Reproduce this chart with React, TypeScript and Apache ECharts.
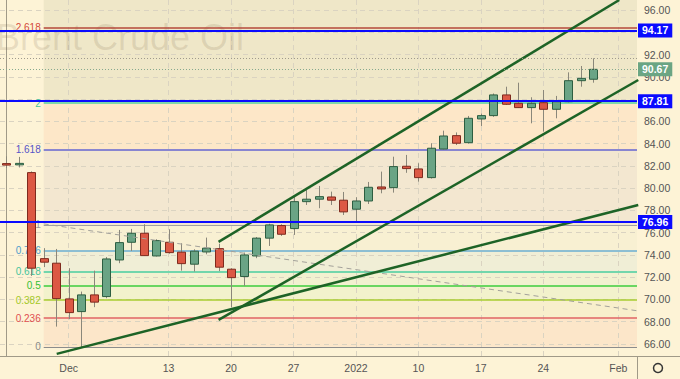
import React, { useEffect, useRef } from 'react';
import * as echarts from 'echarts';

// ---------- data ----------
const dates = ['Nov 24','Nov 25','Nov 26','Nov 29','Nov 30','Dec 1','Dec 2','Dec 3','Dec 6','Dec 7','Dec 8','Dec 9','Dec 10','Dec 13','Dec 14','Dec 15','Dec 16','Dec 17','Dec 20','Dec 21','Dec 22','Dec 23','Dec 24','Dec 27','Dec 28','Dec 29','Dec 30','Dec 31','Jan 3','Jan 4','Jan 5','Jan 6','Jan 7','Jan 10','Jan 11','Jan 12','Jan 13','Jan 14','Jan 17','Jan 18','Jan 19','Jan 20','Jan 21','Jan 24','Jan 25','Jan 26','Jan 27','Jan 28','Jan 31','Feb 1','Feb 2'];

const opens = [82.20,82.15,81.39,73.66,73.25,70.04,68.90,70.40,70.25,73.54,75.13,75.94,73.90,75.13,74.24,73.16,74.26,74.56,72.71,72.05,73.90,75.50,76.63,76.36,78.78,79.00,79.20,78.91,78.10,78.84,80.10,80.04,81.96,81.72,80.94,83.51,84.71,84.08,86.21,86.51,88.37,87.62,87.23,87.67,87.08,87.76,89.65,89.78];
const highs = [82.85,82.80,81.50,74.60,74.53,72.80,70.70,72.58,73.80,76.24,76.33,76.75,75.40,76.30,75.04,74.50,75.55,75.00,72.80,74.20,75.60,76.80,76.75,79.23,79.83,80.19,79.68,79.65,79.18,80.55,81.48,82.82,82.98,82.23,84.03,85.16,85.00,86.48,86.70,88.50,89.11,89.47,88.16,88.81,88.28,90.40,90.97,91.66];
const lows = [81.80,81.85,72.11,72.90,67.55,68.22,65.72,69.30,70.10,73.25,74.35,73.90,73.85,74.10,72.58,72.50,74.05,72.54,69.30,71.21,73.70,74.80,75.70,75.79,78.48,78.19,78.48,77.58,77.00,78.57,79.53,79.59,81.37,80.58,80.85,83.45,83.87,84.00,85.58,86.40,87.47,87.20,85.82,85.07,86.27,87.70,89.11,89.47];
const closes = [82.15,82.22,72.80,73.34,70.07,68.81,70.40,69.75,73.63,75.10,75.94,73.93,75.28,74.20,73.21,74.33,74.60,72.89,71.95,73.99,75.50,76.69,75.85,78.78,79.00,79.23,78.91,77.86,78.84,80.07,79.92,81.93,81.75,80.94,83.58,84.68,84.03,86.27,86.51,88.37,87.53,87.23,87.62,87.08,87.76,89.65,89.86,90.67];

const tickDates = ['Dec 1','Dec 13','Dec 20','Dec 27','Jan 3','Jan 10','Jan 17','Jan 24','Feb 1'];
const tickTexts = ['Dec','13','20','27','2022','10','17','24','Feb'];
const yGridTicks = [66,68,70,72,74,76,78,80,82,84,86,88,90,92,94,96];
// 94.00 and 88.00 sit behind the price boxes in the reference, so they are not shown
const yLabelTicks = [66,68,70,72,74,76,78,80,82,84,86,90,92,96];

const fibLow = 65.74;
const fibHigh = 76.69;
const fibStartIndex = 3;
const fibLevels = [0, 0.236, 0.382, 0.5, 0.618, 0.786, 1, 1.618, 2, 2.618, 3.618];
const fibNames = ['0','0.236','0.382','0.5','0.618','0.786','1','1.618','2','2.618','3.618'];
const fibLineColors = ['#8c8c8c','#e06464','#a8cc30','#3ccc3c','#72d6ac','#6aaed2','#a0a0a0','#6464d0','#7ed8aa','#b4483a','#b4483a'];
const fibLabelColors = ['#8a8a8a','#e05050','#a4c828','#33c033','#45c49c','#4d9ccc','#999999','#5555c8','#45c49c','#d44a3a','#d44a3a'];
const fibLineWidths = [1,1.5,1.5,1.5,2,1.5,1,1.5,2,1.5,1.5];
const fibZoneColors = ['#fce6c9','#f8efcc','#f2f2cc','#f2f1d0','#f0eed6','#f8f0d2','#f3e7d0','#fde7c8','#efe7c8','#efe7c8'];

const keyLevels = [94.17, 87.81, 76.96];
const lastClose = 90.67;
const recentHigh = 91.66;

const upperChannel = [[17, 75.16], [49.08, 96.9]];
const lowerChannel = [[17, 68.15], [50.6, 89.71]];
const longSupport = [[4.04, 65.1], [50.6, 78.48]];
const dashedTrend = [[3, 76.78], [50.6, 68.96]];

const FONT = 'Liberation Sans, Arial, sans-serif';

export default function App() {
  const ref = useRef<HTMLDivElement>(null);

  useEffect(() => {
    if (!ref.current) return;
    const chart = echarts.init(ref.current, null, { renderer: 'svg' });

    const candleData = opens.map((o, k) => [k, o, closes[k], lows[k], highs[k]]);
    const fibPrice = (r: number) => fibLow + r * (fibHigh - fibLow);
    const xMax = dates.length - 0.5;

    const fibZones = fibZoneColors.map((c, k) => [
      { coord: [fibStartIndex, fibPrice(fibLevels[k])], itemStyle: { color: c } },
      { coord: [xMax, fibPrice(fibLevels[k + 1])] },
    ]);

    const fibLines = fibLevels.slice(0, 10).map((r, k) => [
      {
        coord: [fibStartIndex, fibPrice(r)],
        lineStyle: { color: fibLineColors[k], width: fibLineWidths[k], type: 'solid' },
        label: {
          show: true,
          position: 'start',
          formatter: fibNames[k],
          color: fibLabelColors[k],
          fontSize: 10,
          fontFamily: FONT,
          distance: 3,
        },
      },
      { coord: [xMax, fibPrice(r)] },
    ]);

    const vGrid = tickDates.map((d) => ({ xAxis: dates.indexOf(d) }));

    const trend = (name: string, pts: number[][], color: string, width: number, type: any = 'solid') => ({
      name,
      type: 'line',
      xAxisIndex: 1,
      yAxisIndex: 0,
      data: pts,
      symbol: 'none',
      showSymbol: false,
      clip: true,
      silent: true,
      z: 3,
      lineStyle: { color, width, type },
    });

    const priceLabel = (bg: string) => ({
      show: true,
      position: 'end',
      distance: 1,
      formatter: (p: any) => Number(p.value).toFixed(2),
      backgroundColor: bg,
      color: '#ffffff',
      fontWeight: 'bold',
      fontSize: 10.5,
      fontFamily: FONT,
      padding: [2, 4, 1, 4],
    });

    const option: any = {
      animation: false,
      backgroundColor: '#fdf3d6',
      grid: { left: -2, right: 43, top: 0, bottom: 23, containLabel: false },
      xAxis: [
        {
          type: 'category',
          data: dates,
          boundaryGap: true,
          axisLine: { show: true, lineStyle: { color: '#a09a88' } },
          axisTick: { show: false },
          axisLabel: {
            interval: (_i: number, v: string) => tickDates.includes(v),
            formatter: (v: string) => {
              const k = tickDates.indexOf(v);
              return k >= 0 ? tickTexts[k] : '';
            },
            color: '#555555',
            fontSize: 10.5,
            fontFamily: FONT,
            margin: 6,
          },
          splitLine: { show: false },
        },
        { type: 'value', min: -0.5, max: xMax, show: false },
      ],
      yAxis: {
        type: 'value',
        position: 'right',
        min: 64.91,
        max: 96.9,
        axisLine: { show: true, lineStyle: { color: '#a09a88' } },
        axisTick: { show: false, customValues: yGridTicks },
        axisLabel: {
          customValues: yLabelTicks,
          formatter: (v: number) => v.toFixed(2),
          color: '#555555',
          fontSize: 10.5,
          fontFamily: FONT,
          margin: 7,
        },
        splitLine: { show: true, lineStyle: { color: '#dad3c1', type: [5, 4], width: 1 } },
      },
      graphic: [
        {
          type: 'text',
          x: -4,
          y: 37.5,
          z: 1,
          silent: true,
          style: {
            text: 'Brent Crude Oil',
            font: '36px ' + FONT,
            fill: 'rgba(120,100,70,0.16)',
            verticalAlign: 'middle',
          },
        },
        { type: 'line', z: 5, shape: { x1: 637, y1: 356.5, x2: 680, y2: 356.5 }, style: { stroke: '#a09a88', lineWidth: 1 } },
        { type: 'line', z: 5, shape: { x1: 637.5, y1: 356, x2: 637.5, y2: 379 }, style: { stroke: '#a09a88', lineWidth: 1 } },
        { type: 'circle', z: 5, shape: { cx: 658, cy: 368, r: 4.5 }, style: { fill: 'none', stroke: '#333', lineWidth: 1.5 } },
      ],
      series: [
        {
          name: 'fibFill',
          type: 'line',
          xAxisIndex: 1,
          data: [],
          silent: true,
          markArea: { z: -1, silent: true, data: fibZones },
        },
        {
          name: 'vgrid',
          type: 'line',
          xAxisIndex: 1,
          data: [],
          silent: true,
          markLine: {
            z: 0,
            silent: true,
            symbol: ['none', 'none'],
            label: { show: false },
            lineStyle: { color: '#dad3c1', type: [5, 4], width: 1 },
            data: vGrid,
          },
        },
        {
          name: 'fibLines',
          type: 'line',
          xAxisIndex: 1,
          data: [],
          silent: true,
          markLine: { z: 1, silent: true, symbol: ['none', 'none'], data: fibLines },
        },
        {
          name: 'Brent',
          type: 'custom',
          xAxisIndex: 0,
          yAxisIndex: 0,
          z: 2,
          data: candleData,
          encode: { x: 0, y: [1, 2, 3, 4] },
          renderItem: (_params: any, api: any) => {
            const x = api.value(0);
            const o = api.value(1);
            const c = api.value(2);
            const l = api.value(3);
            const h = api.value(4);
            const pH = api.coord([x, h]);
            const pL = api.coord([x, l]);
            const pO = api.coord([x, o]);
            const pC = api.coord([x, c]);
            const w = Math.round(api.size([1, 0])[0] * 0.64);
            const up = c >= o;
            const cx = Math.round(pH[0]) + 0.5;
            const top = Math.min(pO[1], pC[1]);
            const hgt = Math.max(Math.abs(pO[1] - pC[1]), 1.5);
            return {
              type: 'group',
              children: [
                { type: 'line', shape: { x1: cx, y1: pH[1], x2: cx, y2: pL[1] }, style: { stroke: '#8a877a', lineWidth: 1 } },
                {
                  type: 'rect',
                  shape: { x: cx - w / 2, y: top, width: w, height: hgt },
                  style: { fill: up ? '#6aa485' : '#dc5844', stroke: up ? '#2d5e41' : '#7e2a1e', lineWidth: 1 },
                },
              ],
            };
          },
        },
        trend('dashed', dashedTrend, '#a3a19a', 1, [5, 4]),
        trend('upper', upperChannel, '#1d6326', 2.5),
        trend('lower', lowerChannel, '#1d6326', 2.5),
        trend('long', longSupport, '#1d6326', 2.5),
        {
          name: 'levels',
          type: 'line',
          xAxisIndex: 1,
          data: [],
          silent: true,
          markLine: {
            z: 6,
            silent: true,
            symbol: ['none', 'none'],
            data: [
              ...keyLevels.map((v) => ({
                yAxis: v,
                lineStyle: { color: '#0a0aff', width: 2, type: 'solid' },
                label: priceLabel('#0a0aff'),
              })),
              {
                yAxis: recentHigh,
                lineStyle: { color: '#9f9a8c', width: 1, type: [1, 2] },
                label: { show: false },
              },
              {
                yAxis: lastClose,
                lineStyle: { color: '#86a98e', width: 1, type: [1, 2] },
                label: priceLabel('#6ba583'),
              },
            ],
          },
        },
      ],
    };

    chart.setOption(option);
    return () => chart.dispose();
  }, []);

  return (
    <div
      ref={ref}
      style={{ position: 'fixed', left: 0, top: 0, width: 680, height: 379, background: '#fdf3d6' }}
    />
  );
}
